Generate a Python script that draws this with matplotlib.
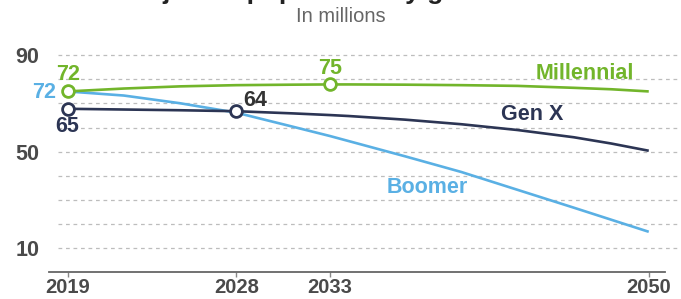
import matplotlib.pyplot as plt

plt.rcParams['font.family'] = ['Liberation Sans', 'DejaVu Sans']

# values (axis units)
years = [2019, 2022, 2025, 2028, 2031, 2033, 2034, 2037, 2040, 2043, 2046, 2048, 2050]
millennial = [75.0, 76.2, 77.1, 77.6, 77.8, 77.9, 77.9, 77.8, 77.6, 77.3, 76.5, 75.9, 75.0]
gen_x = [67.8, 67.5, 67.2, 66.8, 65.9, 65.2, 64.8, 63.3, 61.4, 59.0, 56.0, 53.4, 50.4]
boomer = [75.0, 73.3, 70.1, 66.2, 60.4, 56.5, 54.4, 48.1, 41.6, 34.2, 26.8, 21.8, 16.8]

tick_years = [2019, 2028, 2033, 2050]
y_ticks = [10, 50, 90]

c_mil = '#72b52b'
c_genx = '#2c3554'
c_boom = '#5ab0e4'
c_text = '#4a4a4a'
fs = 15.5

fig = plt.figure(figsize=(6.81, 2.99), dpi=100)
ax = fig.add_axes([49 / 681, 26.7 / 299, 632 / 681, 237.3 / 299])
ax.set_xlim(2018.01, 2051.72)
ax.set_ylim(0, 98.4)

for v in range(10, 100, 10):
    ax.axhline(v, xmin=0.0142, xmax=1, color='#bdbdbd', lw=0.9, ls=(0, (3, 3)), zorder=1)
ax.axhline(0, xmin=0, xmax=0.975, color='#666666', lw=1.3, clip_on=False, zorder=2)

ax.plot(years, boomer, color=c_boom, lw=1.9, zorder=3, solid_capstyle='butt')
ax.plot(years, gen_x, color=c_genx, lw=1.9, zorder=4, solid_capstyle='butt')
ax.plot(years, millennial, color=c_mil, lw=1.9, zorder=5, solid_capstyle='butt')

mk = dict(marker='o', ms=8.5, mfc='white', mew=2, ls='none', zorder=6)
ax.plot([years[0], years[5]], [millennial[0], millennial[5]], mec=c_mil, **mk)
ax.plot([years[0], years[3]], [gen_x[0], gen_x[3]], mec=c_genx, **mk)

lab = dict(fontsize=fs, fontweight='bold', textcoords='offset points', va='center')
ax.annotate('72', (years[0], millennial[0]), xytext=(0.5, 12), color=c_mil, ha='center', **lab)
ax.annotate('72', (years[0], boomer[0]), xytext=(-8, -0.5), color=c_boom, ha='right', **lab)
ax.annotate('65', (years[0], gen_x[0]), xytext=(0, -12.5), color=c_genx, ha='center', **lab)
ax.annotate('64', (years[3], gen_x[3]), xytext=(13.5, 8), color='#333333', ha='center', **lab)
ax.annotate('75', (years[5], millennial[5]), xytext=(0, 11.5), color=c_mil, ha='center', **lab)

ax.text(2046.6, 82.6, 'Millennial', color=c_mil, fontsize=fs, fontweight='bold', ha='center', va='center')
ax.text(2043.8, 65.6, 'Gen X', color=c_genx, fontsize=fs, fontweight='bold', ha='center', va='center')
ax.text(2038.2, 35.0, 'Boomer', color=c_boom, fontsize=fs, fontweight='bold', ha='center', va='center')

for s in ax.spines.values():
    s.set_visible(False)
ax.set_xticks(tick_years)
ax.set_xticklabels([str(y) for y in tick_years], fontsize=14.5, fontweight='bold', color=c_text)
ax.tick_params(axis='x', length=3.5, width=1, color='#888888', pad=0.5)
ax.set_yticks(y_ticks)
ax.set_yticklabels([str(v) for v in y_ticks], fontsize=fs, fontweight='bold', color=c_text)
ax.tick_params(axis='y', length=0, pad=7)

# title is cut off at the top edge in the reference
fig.text(0.5, 1 + 0.5 / 299, 'Projected population by generation', fontsize=19, fontweight='bold',
         color='#222222', ha='center', va='baseline')
fig.text(0.5, 1 - 17 / 299, 'In millions', fontsize=14.5, color='#666666', ha='center', va='center')

fig.savefig('out.png', dpi=100)
